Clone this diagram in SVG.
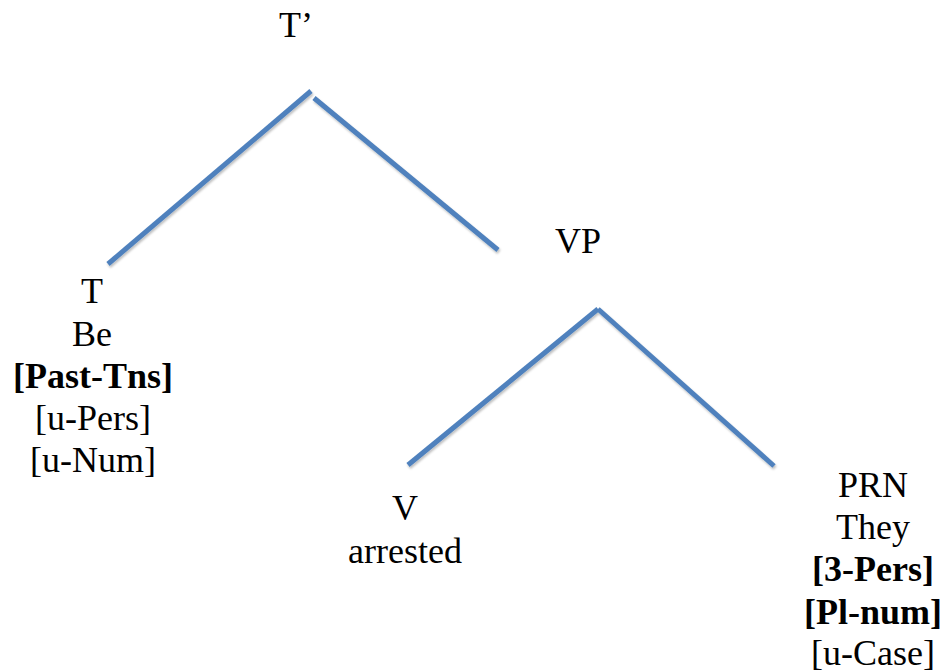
<svg xmlns="http://www.w3.org/2000/svg" width="946" height="672" viewBox="0 0 946 672">
<defs>
<filter id="sh" x="-10%" y="-10%" width="120%" height="120%">
<feDropShadow dx="1" dy="2" stdDeviation="1.2" flood-color="#000" flood-opacity="0.25"/>
</filter>
</defs>
<rect width="946" height="672" fill="#fff"/>
<g id="connectors" stroke="#4F81BD" stroke-width="5" fill="none" filter="url(#sh)">
<line x1="108" y1="264" x2="311" y2="91"/>
<line x1="314" y1="98" x2="498" y2="250"/>
<line x1="408" y1="465" x2="598" y2="309"/>
<line x1="598" y1="309" x2="774" y2="466"/>
</g>
<g id="Tbar"><text font-family="Liberation Serif, Times New Roman, serif" font-size="36" text-anchor="middle" x="296" y="37">T’</text></g>
<g id="T" font-family="Liberation Serif, Times New Roman, serif" font-size="36" text-anchor="middle">
<text font-family="Liberation Serif, Times New Roman, serif" x="92" y="303">T</text>
<text font-family="Liberation Serif, Times New Roman, serif" x="92" y="346">Be</text>
<text font-family="Liberation Serif, Times New Roman, serif" x="93" y="388" font-weight="bold">[Past-Tns]</text>
<text font-family="Liberation Serif, Times New Roman, serif" x="93" y="430">[u-Pers]</text>
<text font-family="Liberation Serif, Times New Roman, serif" x="93" y="472">[u-Num]</text>
</g>
<g id="VP"><text font-family="Liberation Serif, Times New Roman, serif" font-size="36" text-anchor="middle" x="578" y="253">VP</text></g>
<g id="V" font-family="Liberation Serif, Times New Roman, serif" font-size="36" text-anchor="middle">
<text font-family="Liberation Serif, Times New Roman, serif" x="405" y="520">V</text>
<text font-family="Liberation Serif, Times New Roman, serif" x="405" y="563">arrested</text>
</g>
<g id="PRN" font-family="Liberation Serif, Times New Roman, serif" font-size="36" text-anchor="middle">
<text font-family="Liberation Serif, Times New Roman, serif" x="873" y="497">PRN</text>
<text font-family="Liberation Serif, Times New Roman, serif" x="873" y="539">They</text>
<text font-family="Liberation Serif, Times New Roman, serif" x="873" y="581" font-weight="bold">[3-Pers]</text>
<text font-family="Liberation Serif, Times New Roman, serif" x="873" y="624" font-weight="bold">[Pl-num]</text>
<text font-family="Liberation Serif, Times New Roman, serif" x="873" y="665">[u-Case]</text>
</g>
</svg>
